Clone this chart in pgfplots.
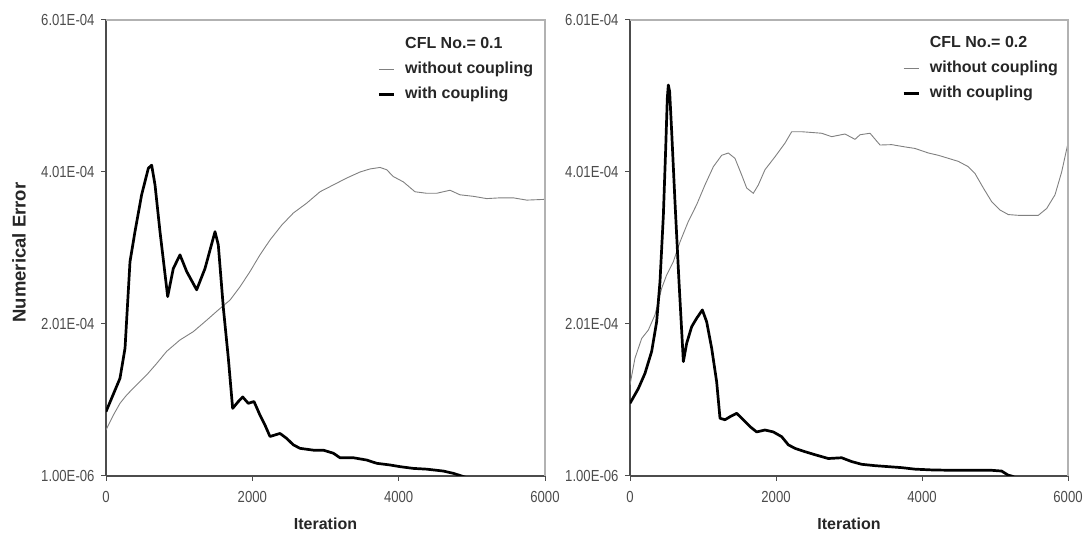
\documentclass[border=0pt]{standalone}
\usepackage{pgfplots}
\pgfplotsset{compat=1.18}
\usepackage{fontspec}
\setmainfont{Liberation Sans}
\newfontfamily\ticklab[FakeStretch=0.82]{Liberation Sans}

\pgfplotsset{
 panel/.style={
  scale only axis, width=439pt, height=456pt,
  xmin=0, xmax=6000, ymin=1e-6, ymax=6.01e-4,
  axis x line*=bottom, axis y line*=left,
  axis line style={-, black!70, line width=1.2pt},
  xtick={0,2000,4000,6000}, xticklabels={0,2000,4000,6000},
  ytick={1e-6,2.01e-4,4.01e-4,6.01e-4},
  yticklabels={1.00E-06,2.01E-04,4.01E-04,6.01E-04},
  scaled x ticks=false, scaled y ticks=false,
  tick align=outside, major tick length=5pt,
  tick style={black!70, line width=1pt},
  tick label style={font=\ticklab\fontsize{16}{16}\selectfont, text=black!70},
  x tick label style={yshift=-7pt},
  y tick label style={xshift=-3pt},
  xlabel={Iteration},
  every axis x label/.style={at={(axis description cs:0.5,-0.105)}, anchor=center, font=\bfseries\fontsize{16}{16}\selectfont, text=black!85},
  legend style={draw=none, fill=none, inner sep=0pt, anchor=north west,
    font=\bfseries\fontsize{16}{16}\selectfont, text=black!85,
    row sep=6pt, column sep=8pt,
    nodes={text height=11.5pt, text depth=3.5pt}},
  legend cell align=left,
  legend image code/.code={\draw[##1] (0pt,0pt) -- (15pt,0pt);},
 },
 wo/.style={black!50, line width=0.9pt},
 wc/.style={black, line width=2.7pt, line join=round},
}

\begin{document}
\begin{tikzpicture}
\useasboundingbox (0,0) rectangle (1085pt,533pt);

% ---------------- left panel ----------------
\begin{axis}[panel, name=L, at={(106pt,57pt)},
  ylabel={Numerical Error},
  every axis y label/.style={at={(axis description cs:-0.198,0.49)}, rotate=90, anchor=center, font=\bfseries\fontsize{18.5}{18.5}\selectfont, text=black!85},
  legend style={at={(rel axis cs:0.618,0.967)}}]
\addlegendimage{empty legend}
\addlegendentry{CFL No.= 0.1}
\addplot[wo] coordinates {
(0,0.615e-4) (100,0.81e-4) (191,0.966e-4) (282,1.075e-4) (419,1.21e-4)
(556,1.34e-4) (692,1.49e-4) (829,1.65e-4) (1011,1.80e-4) (1194,1.91e-4)
(1376,2.06e-4) (1535,2.195e-4) (1695,2.325e-4) (1832,2.50e-4) (1968,2.70e-4)
(2105,2.92e-4) (2241,3.115e-4) (2401,3.31e-4) (2560,3.47e-4) (2743,3.60e-4)
(2925,3.75e-4) (3107,3.84e-4) (3289,3.93e-4) (3472,4.01e-4) (3608,4.05e-4)
(3745,4.07e-4) (3836,4.04e-4) (3927,3.95e-4) (4064,3.88e-4) (4223,3.75e-4)
(4383,3.73e-4) (4519,3.73e-4) (4702,3.77e-4) (4838,3.71e-4) (5021,3.69e-4)
(5203,3.66e-4) (5385,3.67e-4) (5567,3.67e-4) (5750,3.64e-4) (6000,3.65e-4)
};
\addlegendentry{without coupling}
\addplot[wc] coordinates {
(0,0.856e-4) (191,1.295e-4) (260,1.69e-4) (328,2.83e-4) (396,3.225e-4)
(487,3.71e-4) (579,4.06e-4) (624,4.10e-4) (670,3.84e-4) (738,3.225e-4)
(843,2.37e-4) (920,2.74e-4) (1011,2.92e-4) (1103,2.70e-4) (1239,2.46e-4)
(1353,2.74e-4) (1490,3.225e-4) (1535,3.05e-4) (1604,2.22e-4) (1672,1.56e-4)
(1731,0.90e-4) (1809,0.99e-4) (1868,1.05e-4) (1945,0.966e-4) (2023,0.99e-4)
(2105,0.81e-4) (2173,0.68e-4) (2241,0.53e-4) (2310,0.55e-4) (2378,0.57e-4)
(2469,0.505e-4) (2560,0.42e-4) (2652,0.374e-4) (2834,0.35e-4) (2970,0.35e-4)
(3107,0.31e-4) (3198,0.25e-4) (3381,0.25e-4) (3563,0.22e-4) (3700,0.177e-4)
(3882,0.155e-4) (4018,0.133e-4) (4200,0.11e-4) (4383,0.10e-4) (4611,0.075e-4)
(4747,0.045e-4) (4861,0.01e-4) (4950,-0.02e-4)
};
\addlegendentry{with coupling}
\end{axis}
\draw[black!30, line width=1.5pt] (L.north west) -- (L.north east) -- (L.south east);

% ---------------- right panel ----------------
\begin{axis}[panel, name=R, at={(630pt,57pt)}, width=438pt,
  legend style={at={(rel axis cs:0.621,0.969)}}]
\addlegendimage{empty legend}
\addlegendentry{CFL No.= 0.2}
\addplot[wo] coordinates {
(0,1.21e-4) (68,1.56e-4) (160,1.82e-4) (251,1.93e-4) (342,2.13e-4)
(434,2.48e-4) (502,2.655e-4) (594,2.83e-4) (685,3.09e-4) (799,3.36e-4)
(913,3.58e-4) (1027,3.84e-4) (1142,4.08e-4) (1256,4.23e-4) (1347,4.26e-4)
(1438,4.19e-4) (1530,3.97e-4) (1598,3.80e-4) (1689,3.73e-4) (1758,3.84e-4)
(1849,4.04e-4) (1986,4.21e-4) (2123,4.39e-4) (2215,4.54e-4) (2352,4.54e-4)
(2488,4.53e-4) (2625,4.52e-4) (2763,4.475e-4) (2945,4.51e-4) (3082,4.44e-4)
(3151,4.50e-4) (3288,4.52e-4) (3425,4.365e-4) (3584,4.37e-4) (3767,4.34e-4)
(3904,4.32e-4) (4087,4.26e-4) (4223,4.23e-4) (4360,4.19e-4) (4497,4.15e-4)
(4634,4.08e-4) (4726,3.99e-4) (4840,3.80e-4) (4954,3.62e-4) (5068,3.51e-4)
(5182,3.45e-4) (5319,3.44e-4) (5479,3.44e-4) (5593,3.44e-4) (5708,3.53e-4)
(5822,3.71e-4) (5913,4.01e-4) (6000,4.39e-4)
};
\addlegendentry{without coupling}
\addplot[wc] coordinates {
(0,0.966e-4) (114,1.16e-4) (205,1.36e-4) (297,1.65e-4) (365,2.04e-4)
(411,2.57e-4) (457,3.44e-4) (489,4.32e-4) (511,4.98e-4) (525,5.155e-4)
(543,5.07e-4) (571,4.54e-4) (616,3.62e-4) (671,2.57e-4) (731,1.515e-4)
(776,1.755e-4) (845,1.975e-4) (913,2.085e-4) (991,2.195e-4) (1050,2.04e-4)
(1119,1.69e-4) (1187,1.25e-4) (1233,0.77e-4) (1301,0.75e-4) (1370,0.79e-4)
(1461,0.835e-4) (1552,0.75e-4) (1644,0.66e-4) (1735,0.59e-4) (1849,0.615e-4)
(1963,0.59e-4) (2078,0.527e-4) (2169,0.42e-4) (2260,0.374e-4) (2397,0.33e-4)
(2534,0.29e-4) (2717,0.24e-4) (2899,0.25e-4) (3036,0.20e-4) (3173,0.164e-4)
(3356,0.146e-4) (3539,0.133e-4) (3721,0.12e-4) (3904,0.10e-4) (4132,0.09e-4)
(4406,0.085e-4) (4680,0.085e-4) (4954,0.085e-4) (5091,0.075e-4) (5182,0.02e-4)
(5228,0.01e-4) (5300,-0.02e-4)
};
\addlegendentry{with coupling}
\end{axis}
\draw[black!30, line width=1.5pt] (R.north west) -- (R.north east) -- (R.south east);
\end{tikzpicture}
\end{document}
